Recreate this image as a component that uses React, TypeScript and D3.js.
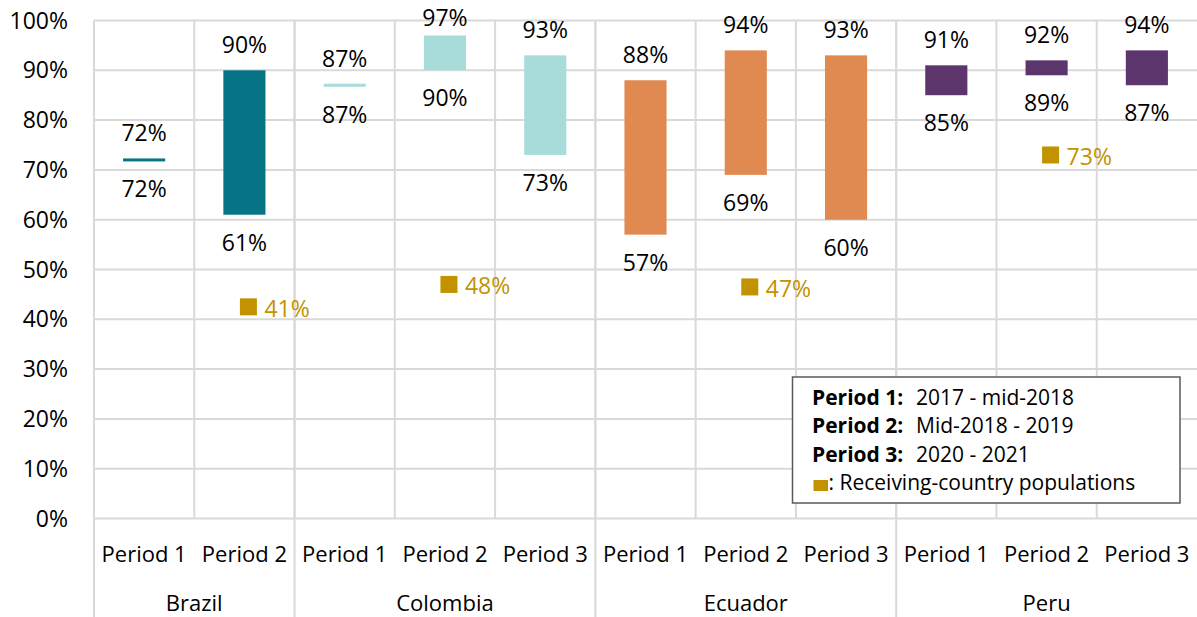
import React from "react";
import * as d3 from "d3";

// chart data
const countries = ["Brazil", "Colombia", "Ecuador", "Peru"];
const countryPeriods = [
  ["Period 1", "Period 2"],
  ["Period 1", "Period 2", "Period 3"],
  ["Period 1", "Period 2", "Period 3"],
  ["Period 1", "Period 2", "Period 3"],
];
const lows = [72, 61, 87, 90, 73, 57, 69, 60, 85, 89, 87];
const highs = [72, 90, 87, 97, 93, 88, 94, 93, 91, 92, 94];
const countryColors = ["#077585", "#a8dcda", "#e08a51", "#5c356c"];
// receiving-country populations, shown in Period 2 of each country
const receivingValues = [42.5, 47, 46.5, 73];
const receivingLabels = ["41%", "48%", "47%", "73%"];
const yTicks = [0, 10, 20, 30, 40, 50, 60, 70, 80, 90, 100];
const legendRows = [
  ["Period 1:", "2017 - mid-2018"],
  ["Period 2:", "Mid-2018 - 2019"],
  ["Period 3:", "2020 - 2021"],
];

const FONT = "'Open Sans', sans-serif";

const App = () => {
  const width = 1197,
    height = 617;
  const left = 94,
    right = 1197,
    top = 20.5,
    bottom = 518.5;

  // flatten categories
  const cols: { country: number; period: string; key: string }[] = [];
  countries.forEach((c, ci) =>
    countryPeriods[ci].forEach((p) => cols.push({ country: ci, period: p, key: c + "|" + p }))
  );

  const x = d3
    .scaleBand()
    .domain(cols.map((d) => d.key))
    .range([left, right])
    .paddingInner(0)
    .paddingOuter(0);
  const y = d3.scaleLinear().domain([0, 100]).range([bottom, top]);
  const bw = x.bandwidth() * 0.42;
  const grid = "#d9d9d9";

  // country boundaries
  const countryBounds: { start: number; end: number; name: string }[] = [];
  countries.forEach((c, ci) => {
    const keys = cols.filter((d) => d.country === ci).map((d) => d.key);
    const start = x(keys[0])!;
    const end = x(keys[keys.length - 1])! + x.bandwidth();
    countryBounds.push({ start, end, name: c });
  });

  return (
    <div style={{ position: "absolute", left: 0, top: 0 }}>
      <svg width={width} height={height} style={{ display: "block", fontFamily: FONT }}>
        <rect width={width} height={height} fill="#fff" />
        {/* horizontal gridlines */}
        {yTicks.map((t) => (
          <line key={t} x1={left} x2={right} y1={y(t)} y2={y(t)} stroke={grid} strokeWidth={2} />
        ))}
        {/* vertical gridlines between columns */}
        {cols.map((d, i) =>
          i === 0 ? null : (
            <line key={d.key} x1={x(d.key)} x2={x(d.key)} y1={top} y2={bottom} stroke={grid} strokeWidth={2} />
          )
        )}
        {/* country separators extending into the axis */}
        {countryBounds.map((b) => (
          <line key={b.name} x1={b.start} x2={b.start} y1={top} y2={height} stroke={grid} strokeWidth={2} />
        ))}
        {/* y tick labels */}
        {yTicks.map((t) => (
          <text key={t} x={68} y={y(t) + 8} textAnchor="end" fontSize={23} fill="#000">
            {t}%
          </text>
        ))}
        {/* floating bars */}
        {cols.map((d, i) => {
          const cx = x(d.key)! + x.bandwidth() / 2;
          const yTop = y(highs[i]);
          const yBot = y(lows[i]);
          let h = yBot - yTop;
          let ry = yTop;
          if (h < 3) {
            ry = (yTop + yBot) / 2 - 1.5;
            h = 3;
          }
          return (
            <g key={d.key}>
              <rect x={cx - bw / 2} y={ry} width={bw} height={h} fill={countryColors[d.country]} />
              <text x={cx} y={Math.max(ry - 17, 26)} textAnchor="middle" fontSize={23} fill="#000">
                {highs[i]}%
              </text>
              <text x={cx} y={ry + h + 36} textAnchor="middle" fontSize={23} fill="#000">
                {lows[i]}%
              </text>
            </g>
          );
        })}
        {/* receiving-country markers */}
        {countries.map((c, ci) => {
          const key = c + "|Period 2";
          const cx = x(key)! + x.bandwidth() / 2 + 4;
          const cy = y(receivingValues[ci]);
          return (
            <g key={c}>
              <rect x={cx - 8.5} y={cy - 8.5} width={17} height={17} fill="#c29200" />
              <text x={cx + 16} y={cy + 10} fontSize={23} fill="#c29200">
                {receivingLabels[ci]}
              </text>
            </g>
          );
        })}
        {/* category axis */}
        {cols.map((d) => (
          <text
            key={d.key}
            x={x(d.key)! + x.bandwidth() / 2}
            y={562}
            textAnchor="middle"
            fontSize={22}
            fill="#000"
          >
            {d.period}
          </text>
        ))}
        {countryBounds.map((b) => (
          <text key={b.name} x={(b.start + b.end) / 2} y={611} textAnchor="middle" fontSize={22} fill="#000">
            {b.name}
          </text>
        ))}
        {/* legend */}
        <g>
          <rect x={792.5} y={377} width={387.5} height={126} fill="#fff" stroke="#595959" strokeWidth={1.5} />
          {legendRows.map((r, i) => (
            <text key={r[0]} y={405 + i * 28.3} fontSize={21} fill="#000">
              <tspan x={812} fontWeight="bold">
                {r[0]}
              </tspan>
              <tspan x={916}>{r[1]}</tspan>
            </text>
          ))}
          <rect x={813.5} y={480} width={14.5} height={11} fill="#c29200" />
          <text x={828.5} y={490} fontSize={21} fill="#000">
            : Receiving-country populations
          </text>
        </g>
      </svg>
    </div>
  );
};

export default App;
